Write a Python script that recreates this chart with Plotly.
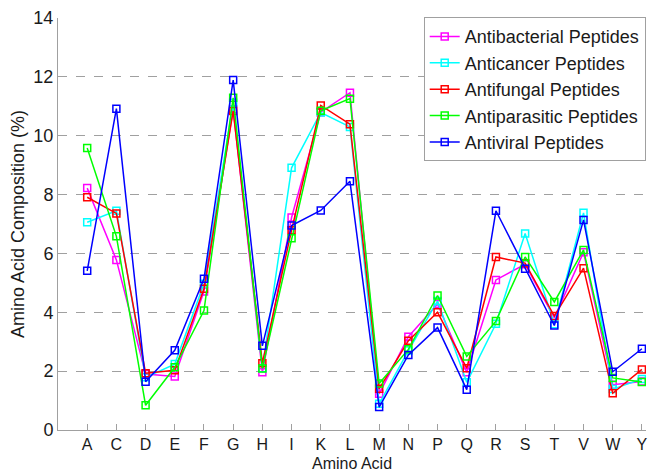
import plotly.graph_objects as go

amino_acids = ["A", "C", "D", "E", "F", "G", "H", "I", "K", "L",
               "M", "N", "P", "Q", "R", "S", "T", "V", "W", "Y"]

antibacterial = [8.22, 5.78, 1.90, 1.82, 4.71, 10.90, 1.96, 7.22, 10.80, 11.46,
                 1.23, 3.17, 4.28, 1.96, 5.10, 5.63, 3.81, 6.04, 1.54, 1.65]
anticancer = [7.06, 7.45, 1.79, 2.24, 4.97, 11.12, 2.10, 8.91, 10.79, 10.30,
              0.89, 2.70, 4.38, 1.62, 3.61, 6.68, 3.59, 7.38, 1.39, 1.73]
antifungal = [7.91, 7.36, 1.93, 2.03, 4.80, 10.84, 2.27, 6.79, 11.03, 10.39,
              1.40, 3.03, 4.00, 2.10, 5.88, 5.67, 3.87, 5.50, 1.25, 2.06]
antiparasitic = [9.58, 6.58, 0.84, 2.13, 4.06, 11.29, 2.09, 6.52, 10.85, 11.26,
                 1.58, 2.74, 4.57, 2.50, 3.70, 5.88, 4.35, 6.12, 1.77, 1.63]
antiviral = [5.41, 10.92, 1.64, 2.71, 5.14, 11.89, 2.86, 6.95, 7.46, 8.45,
             0.78, 2.55, 3.48, 1.37, 7.45, 5.48, 3.55, 7.14, 1.98, 2.76]

series_names = ["Antibacterial Peptides", "Anticancer Peptides", "Antifungal Peptides",
                "Antiparasitic Peptides", "Antiviral Peptides"]
series_values = [antibacterial, anticancer, antifungal, antiparasitic, antiviral]
series_colors = ["#FF00FF", "#00FFFF", "#FF0000", "#00FF00", "#0000FF"]

y_ticks = [0, 2, 4, 6, 8, 10, 12, 14]

positions = list(range(1, len(amino_acids) + 1))

fig = go.Figure()
for name, vals, col in zip(series_names, series_values, series_colors):
    fig.add_trace(go.Scatter(
        x=positions, y=vals, name=name, mode="lines+markers",
        line=dict(color=col, width=1.5),
        marker=dict(symbol="square-open", size=7, color=col, line=dict(width=1.5, color=col)),
    ))

font_family = "Liberation Sans, Arial, sans-serif"
fig.update_layout(
    width=648, height=473,
    margin=dict(l=58, r=0, t=18, b=43),
    paper_bgcolor="white", plot_bgcolor="white",
    font=dict(family=font_family, size=18, color="#1a1a1a"),
    showlegend=True,
    legend=dict(x=0.9995, xanchor="right", y=1.002, yanchor="top",
                bgcolor="white", bordercolor="#A0A0A0", borderwidth=1,
                font=dict(family=font_family, size=18, color="#1a1a1a"),
                tracegroupgap=0, itemsizing="trace"),
    annotations=[dict(text="Amino Acid", xref="paper", yref="paper",
                      x=0.5, y=-0.0825, xanchor="center", yanchor="middle",
                      showarrow=False, font=dict(family=font_family, size=16, color="#1a1a1a"))],
)
fig.update_xaxes(
    range=[0, 20.14], tickmode="array", tickvals=positions, ticktext=amino_acids,
    ticks="inside", ticklen=6, tickcolor="#A0A0A0",
    showline=True, linecolor="#A0A0A0", linewidth=1,
    showgrid=False, zeroline=False, ticklabeloverflow="allow",
    tickfont=dict(size=16),
)
fig.update_yaxes(
    range=[0, 14], tickmode="array", tickvals=y_ticks,
    ticks="inside", ticklen=6, tickcolor="#A0A0A0",
    showline=True, linecolor="#A0A0A0", linewidth=1,
    showgrid=True, gridcolor="#A0A0A0", griddash="dash", gridwidth=1,
    zeroline=False,
    title=dict(text="Amino Acid Composition (%)", standoff=4, font=dict(size=18)),
    tickfont=dict(size=18),
)

fig.write_html("out.html")
